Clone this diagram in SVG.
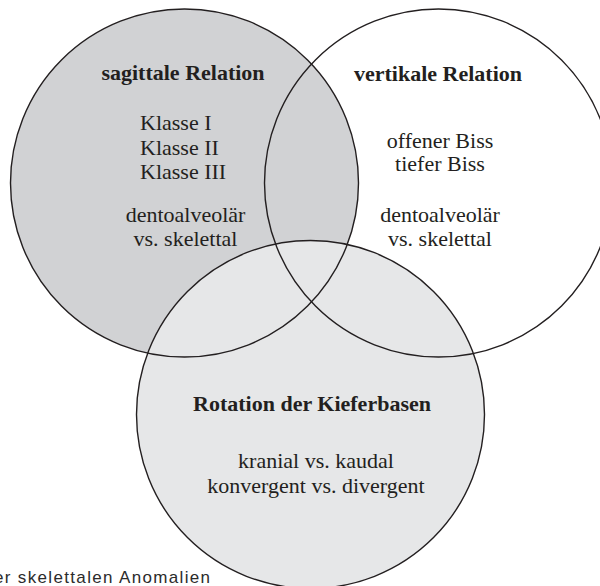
<svg xmlns="http://www.w3.org/2000/svg" width="600" height="586" viewBox="0 0 600 586">
<style>
.ring{fill:none;stroke:#231f20;stroke-width:1.4}
.t{font-family:"Liberation Serif","Times New Roman",serif;font-size:22px;fill:#231f20;text-anchor:middle}
.s{text-anchor:start}
.b{font-weight:bold}
.cap{font-family:"Liberation Sans",Arial,sans-serif;font-size:17px;fill:#2b2b2b}
</style>
<rect width="600" height="586" fill="#ffffff"/>
<g id="fills">
<circle cx="184.5" cy="183" r="174" fill="#d1d2d4"/>
<circle cx="310.5" cy="414.5" r="174" fill="#e6e7e8"/>
</g>
<g id="sagittal">
<circle class="ring" cx="184.5" cy="183" r="174"/>
<text class="t b" x="183" y="80">sagittale Relation</text>
<text class="t s" x="140" y="130">Klasse I</text>
<text class="t s" x="140" y="154.5">Klasse II</text>
<text class="t s" x="140" y="179">Klasse III</text>
<text class="t" x="185.5" y="221.5">dentoalveolär</text>
<text class="t" x="185.5" y="245.5">vs. skelettal</text>
</g>
<g id="vertikal">
<circle class="ring" cx="438.5" cy="183" r="174"/>
<text class="t b" x="438" y="80.5">vertikale Relation</text>
<text class="t" x="440" y="147.5">offener Biss</text>
<text class="t" x="440" y="171">tiefer Biss</text>
<text class="t" x="440" y="221.5">dentoalveolär</text>
<text class="t" x="440" y="245.5">vs. skelettal</text>
</g>
<g id="rotation">
<circle class="ring" cx="310.5" cy="414.5" r="174"/>
<text class="t b" x="312" y="410.5">Rotation der Kieferbasen</text>
<text class="t" x="316" y="468">kranial vs. kaudal</text>
<text class="t" x="316" y="493">konvergent vs. divergent</text>
</g>
<g id="caption">
<text class="cap" x="-6" y="583" textLength="216" lengthAdjust="spacing">er skelettalen Anomalien</text>
</g>
</svg>
